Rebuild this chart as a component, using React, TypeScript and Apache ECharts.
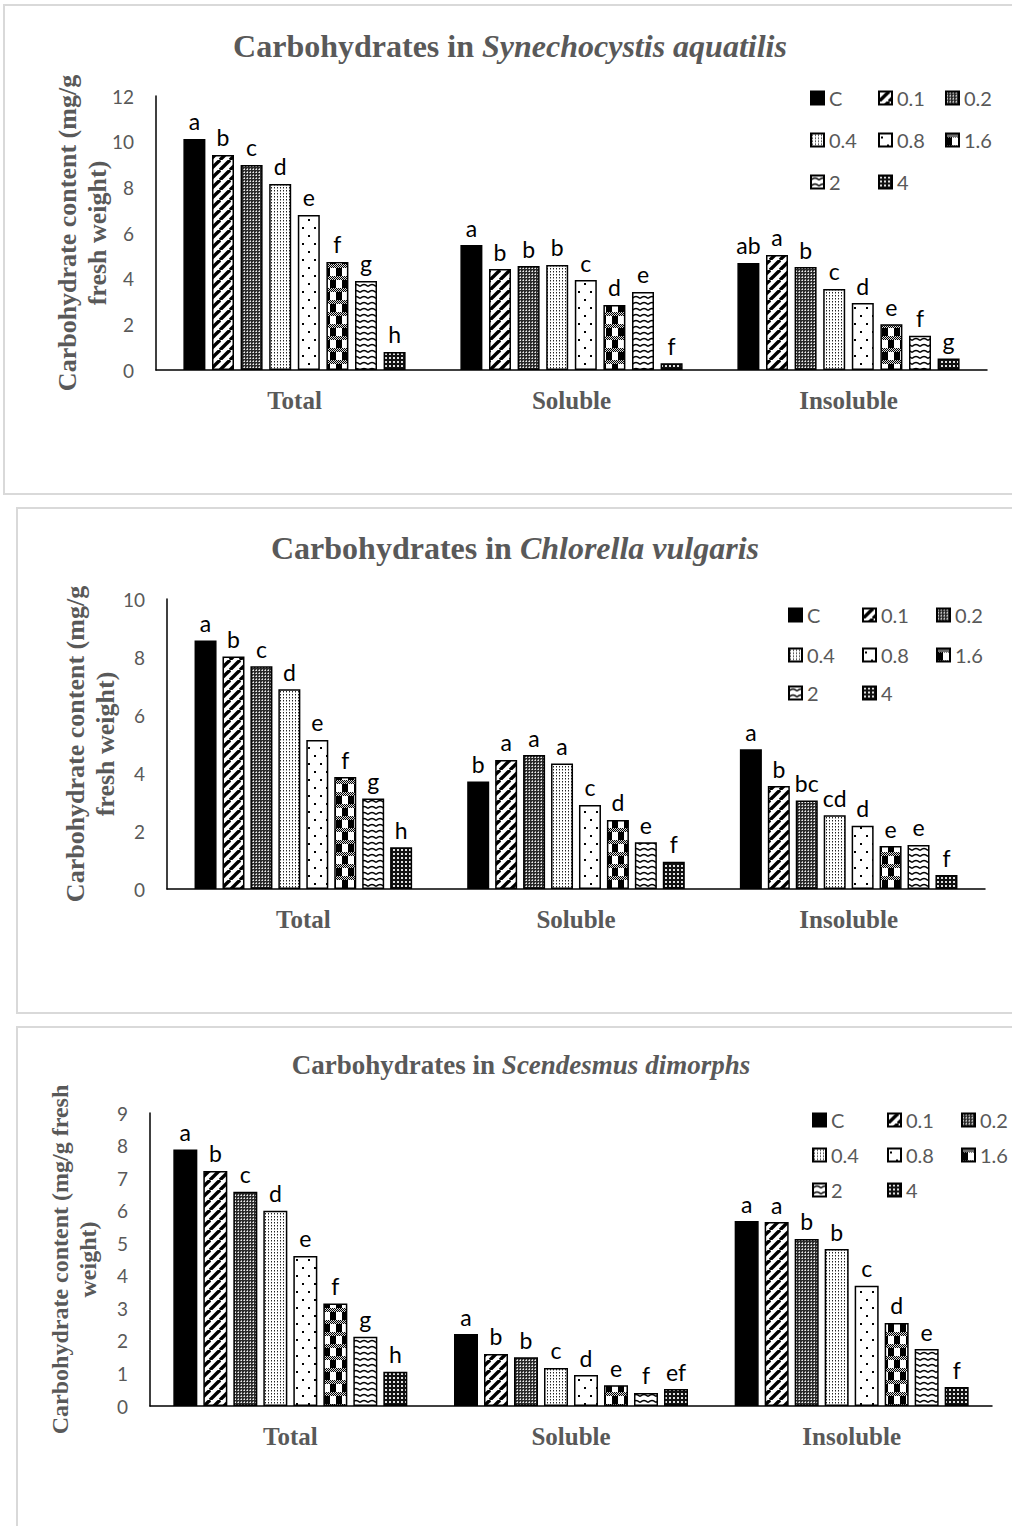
import React, { useEffect, useRef } from 'react';
import * as echarts from 'echarts';

const categories = ['Total', 'Soluble', 'Insoluble'];
const treatments = ['C', '0.1', '0.2', '0.4', '0.8', '1.6', '2', '4'];

// Chart 1: Synechocystis aquatilis
const synTotal = [10.12, 9.42, 8.98, 8.15, 6.79, 4.73, 3.9, 0.79];
const synSoluble = [5.47, 4.42, 4.55, 4.6, 3.94, 2.85, 3.42, 0.3];
const synInsoluble = [4.69, 5.04, 4.51, 3.55, 2.93, 2.0, 1.5, 0.5];
const synTotalSig = ['a', 'b', 'c', 'd', 'e', 'f', 'g', 'h'];
const synSolubleSig = ['a', 'b', 'b', 'b', 'c', 'd', 'e', 'f'];
const synInsolubleSig = ['ab', 'a', 'b', 'c', 'd', 'e', 'f', 'g'];

// Chart 2: Chlorella vulgaris
const chlTotal = [8.57, 8.02, 7.68, 6.89, 5.14, 3.86, 3.12, 1.44];
const chlSoluble = [3.71, 4.45, 4.62, 4.33, 2.9, 2.38, 1.61, 0.94];
const chlInsoluble = [4.82, 3.55, 3.05, 2.54, 2.18, 1.48, 1.52, 0.48];
const chlTotalSig = ['a', 'b', 'c', 'd', 'e', 'f', 'g', 'h'];
const chlSolubleSig = ['b', 'a', 'a', 'a', 'c', 'd', 'e', 'f'];
const chlInsolubleSig = ['a', 'b', 'bc', 'cd', 'd', 'e', 'e', 'f'];

// Chart 3: Scendesmus dimorphs
const sceTotal = [7.88, 7.22, 6.58, 6.0, 4.61, 3.15, 2.13, 1.05];
const sceSoluble = [2.21, 1.6, 1.5, 1.17, 0.95, 0.64, 0.4, 0.52];
const sceInsoluble = [5.68, 5.65, 5.13, 4.82, 3.69, 2.55, 1.75, 0.58];
const sceTotalSig = ['a', 'b', 'c', 'd', 'e', 'f', 'g', 'h'];
const sceSolubleSig = ['a', 'b', 'b', 'c', 'd', 'e', 'f', 'ef'];
const sceInsolubleSig = ['a', 'a', 'b', 'b', 'c', 'd', 'e', 'f'];

const yMax = [12, 10, 9];
const yInterval = [2, 2, 1];

const GRAY = '#595959';
const SERIF = '"Liberation Serif", "Times New Roman", serif';
const SANS = 'Lato, "Open Sans", sans-serif';

function tile(w: number, h: number, draw: (ctx: CanvasRenderingContext2D) => void) {
  const c = document.createElement('canvas');
  c.width = w;
  c.height = h;
  const ctx = c.getContext('2d') as CanvasRenderingContext2D;
  draw(ctx);
  return { image: c.toDataURL(), repeat: 'repeat', imageWidth: w, imageHeight: h } as any;
}

function makePatterns(): any[] {
  const pC = '#000000';
  const p01 = tile(10, 10, (ctx) => {
    ctx.fillStyle = '#fff';
    ctx.fillRect(0, 0, 10, 10);
    ctx.strokeStyle = '#000';
    ctx.lineWidth = 3.4;
    for (let k = -1; k <= 1; k++) {
      ctx.beginPath();
      ctx.moveTo(k * 10, 10);
      ctx.lineTo(k * 10 + 10, 0);
      ctx.stroke();
    }
  });
  const p02 = tile(3, 3, (ctx) => {
    ctx.fillStyle = '#2a2a2a';
    ctx.fillRect(0, 0, 3, 3);
    ctx.fillStyle = '#f0f0f0';
    ctx.fillRect(1, 1, 1, 1);
    ctx.fillStyle = '#a0a0a0';
    ctx.fillRect(0, 1, 1, 1);
    ctx.fillRect(1, 0, 1, 1);
  });
  const p04 = tile(3, 3, (ctx) => {
    ctx.fillStyle = '#fff';
    ctx.fillRect(0, 0, 3, 3);
    ctx.fillStyle = '#222';
    ctx.fillRect(1, 1, 1, 1);
    ctx.fillStyle = '#999';
    ctx.fillRect(1, 2, 1, 1);
  });
  const p08 = tile(12, 16, (ctx) => {
    ctx.fillStyle = '#fff';
    ctx.fillRect(0, 0, 12, 16);
    ctx.fillStyle = '#000';
    ctx.fillRect(2, 3, 2, 2);
    ctx.fillRect(8, 11, 2, 2);
  });
  const p16 = tile(12, 24, (ctx) => {
    ctx.fillStyle = '#fff';
    ctx.fillRect(0, 0, 12, 24);
    ctx.fillStyle = '#000';
    ctx.fillRect(0, 4, 6, 8);
    ctx.fillRect(6, 16, 6, 8);
    for (const by of [0, 12]) {
      for (let y = by; y < by + 4; y++) {
        for (let x = 0; x < 12; x++) {
          ctx.fillStyle = (x + y) % 2 === 0 ? '#000' : '#ddd';
          ctx.fillRect(x, y, 1, 1);
        }
      }
    }
  });
  const p2 = tile(8, 6, (ctx) => {
    ctx.fillStyle = '#fff';
    ctx.fillRect(0, 0, 8, 6);
    ctx.strokeStyle = '#000';
    ctx.lineWidth = 1.4;
    ctx.beginPath();
    ctx.moveTo(0, 4.5);
    ctx.quadraticCurveTo(4, 0.5, 8, 4.5);
    ctx.stroke();
  });
  const p4 = tile(4, 4, (ctx) => {
    ctx.fillStyle = '#111';
    ctx.fillRect(0, 0, 4, 4);
    ctx.fillStyle = '#e0e0e0';
    ctx.fillRect(1, 1, 2, 2);
  });
  return [pC, p01, p02, p04, p08, p16, p2, p4];
}

const App: React.FC = () => {
  const ref = useRef<HTMLDivElement>(null);

  useEffect(() => {
    if (!ref.current) return;
    const chart = echarts.init(ref.current, undefined, { renderer: 'svg' });
    const patterns = makePatterns();

    const charts = [
      { vals: [synTotal, synSoluble, synInsoluble], sig: [synTotalSig, synSolubleSig, synInsolubleSig] },
      { vals: [chlTotal, chlSoluble, chlInsoluble], sig: [chlTotalSig, chlSolubleSig, chlInsolubleSig] },
      { vals: [sceTotal, sceSoluble, sceInsoluble], sig: [sceTotalSig, sceSolubleSig, sceInsolubleSig] },
    ];

    const grids = [
      { left: 156, right: 25, top: 96, bottom: 1156 },
      { left: 167, right: 27, top: 599, bottom: 637 },
      { left: 150, right: 20, top: 1113, bottom: 120 },
    ];
    const barWidths = [22, 22, 24];
    const barGaps = ['30%', '27%', '25%'];
    const yNameSize = [26, 26, 24];
    const yNameLH = [30, 30, 28];
    const yNameGap = [44, 47, 48];
    const yNames = [
      'Carbohydrate content (mg/g\nfresh weight)',
      'Carbohydrate content (mg/g\nfresh weight)',
      'Carbohydrate content (mg/g fresh\nweight)',
    ];

    const titles = [
      { sp: 'Synechocystis aquatilis', x: 510, top: 30, size: 32 },
      { sp: 'Chlorella vulgaris', x: 515, top: 532, size: 32 },
      { sp: 'Scendesmus dimorphs', x: 521, top: 1051, size: 27 },
    ];

    const legendCols = [
      [810, 878, 945],
      [788, 862, 936],
      [812, 887, 961],
    ];
    const legendRows = [
      [99, 141, 183],
      [616, 656, 694],
      [1121, 1156, 1191],
    ];

    const series: any[] = [];
    charts.forEach((ch, ci) => {
      treatments.forEach((t, ti) => {
        series.push({
          name: t,
          type: 'bar',
          xAxisIndex: ci,
          yAxisIndex: ci,
          data: [ch.vals[0][ti], ch.vals[1][ti], ch.vals[2][ti]],
          barWidth: barWidths[ci],
          barGap: barGaps[ci],
          itemStyle: { color: patterns[ti], borderColor: '#000', borderWidth: 1.5 },
          label: {
            show: true,
            position: 'top',
            distance: 6,
            color: '#000',
            fontFamily: SANS,
            fontSize: 23,
            formatter: (p: any) => ch.sig[p.dataIndex][ti],
          },
        });
      });
    });

    const legends: any[] = [];
    legendCols.forEach((cols, ci) => {
      treatments.forEach((t, ti) => {
        const r = Math.floor(ti / 3);
        const c = ti % 3;
        legends.push({
          data: [t],
          left: cols[c],
          top: legendRows[ci][r] - 11,
          padding: 0,
          itemWidth: 13,
          itemHeight: 13,
          itemGap: 0,
          selectedMode: false,
          icon: 'rect',
          textStyle: { fontFamily: SANS, fontSize: 20, color: GRAY, padding: [0, 0, 0, 0] },
        });
      });
    });

    const option: any = {
      animation: false,
      backgroundColor: '#fff',
      title: titles.map((t) => ({
        text: '{b|Carbohydrates in }{i|' + t.sp + '}',
        left: t.x,
        top: t.top,
        textAlign: 'center',
        padding: 0,
        textStyle: {
          rich: {
            b: { fontFamily: SERIF, fontWeight: 'bold', fontSize: t.size, color: GRAY },
            i: { fontFamily: SERIF, fontWeight: 'bold', fontStyle: 'italic', fontSize: t.size, color: GRAY },
          },
        },
      })),
      legend: legends,
      grid: grids,
      xAxis: grids.map((_, ci) => ({
        type: 'category',
        gridIndex: ci,
        data: categories,
        axisTick: { show: false },
        axisLine: { show: true, lineStyle: { color: '#000', width: 1.5 } },
        axisLabel: { fontFamily: SERIF, fontWeight: 'bold', fontSize: 25, color: GRAY, margin: 18 },
      })),
      yAxis: grids.map((_, ci) => ({
        type: 'value',
        gridIndex: ci,
        min: 0,
        max: yMax[ci],
        interval: yInterval[ci],
        axisLine: { show: true, lineStyle: { color: '#000', width: 1.5 } },
        axisTick: { show: false },
        splitLine: { show: false },
        axisLabel: { fontFamily: SANS, fontSize: 19, color: GRAY, margin: 22 },
        name: yNames[ci],
        nameLocation: 'middle',
        nameRotate: 90,
        nameGap: yNameGap[ci],
        nameMoveOverlap: false,
        nameTextStyle: {
          fontFamily: SERIF,
          fontWeight: 'bold',
          fontSize: yNameSize[ci],
          lineHeight: yNameLH[ci],
          color: GRAY,
          align: 'center',
        },
      })),
      graphic: [
        { type: 'rect', shape: { x: 4, y: 5, width: 1030, height: 489 }, style: { fill: 'none', stroke: '#d9d9d9', lineWidth: 2 }, silent: true },
        { type: 'rect', shape: { x: 17, y: 508, width: 1030, height: 505 }, style: { fill: 'none', stroke: '#d9d9d9', lineWidth: 2 }, silent: true },
        { type: 'rect', shape: { x: 17, y: 1027, width: 1030, height: 520 }, style: { fill: 'none', stroke: '#d9d9d9', lineWidth: 2 }, silent: true },
      ],
      series,
    };

    chart.setOption(option);
    return () => {
      chart.dispose();
    };
  }, []);

  return (
    <div
      ref={ref}
      style={{ position: 'absolute', left: 0, top: 0, width: 1012, height: 1526, background: '#fff' }}
    />
  );
};

export default App;
